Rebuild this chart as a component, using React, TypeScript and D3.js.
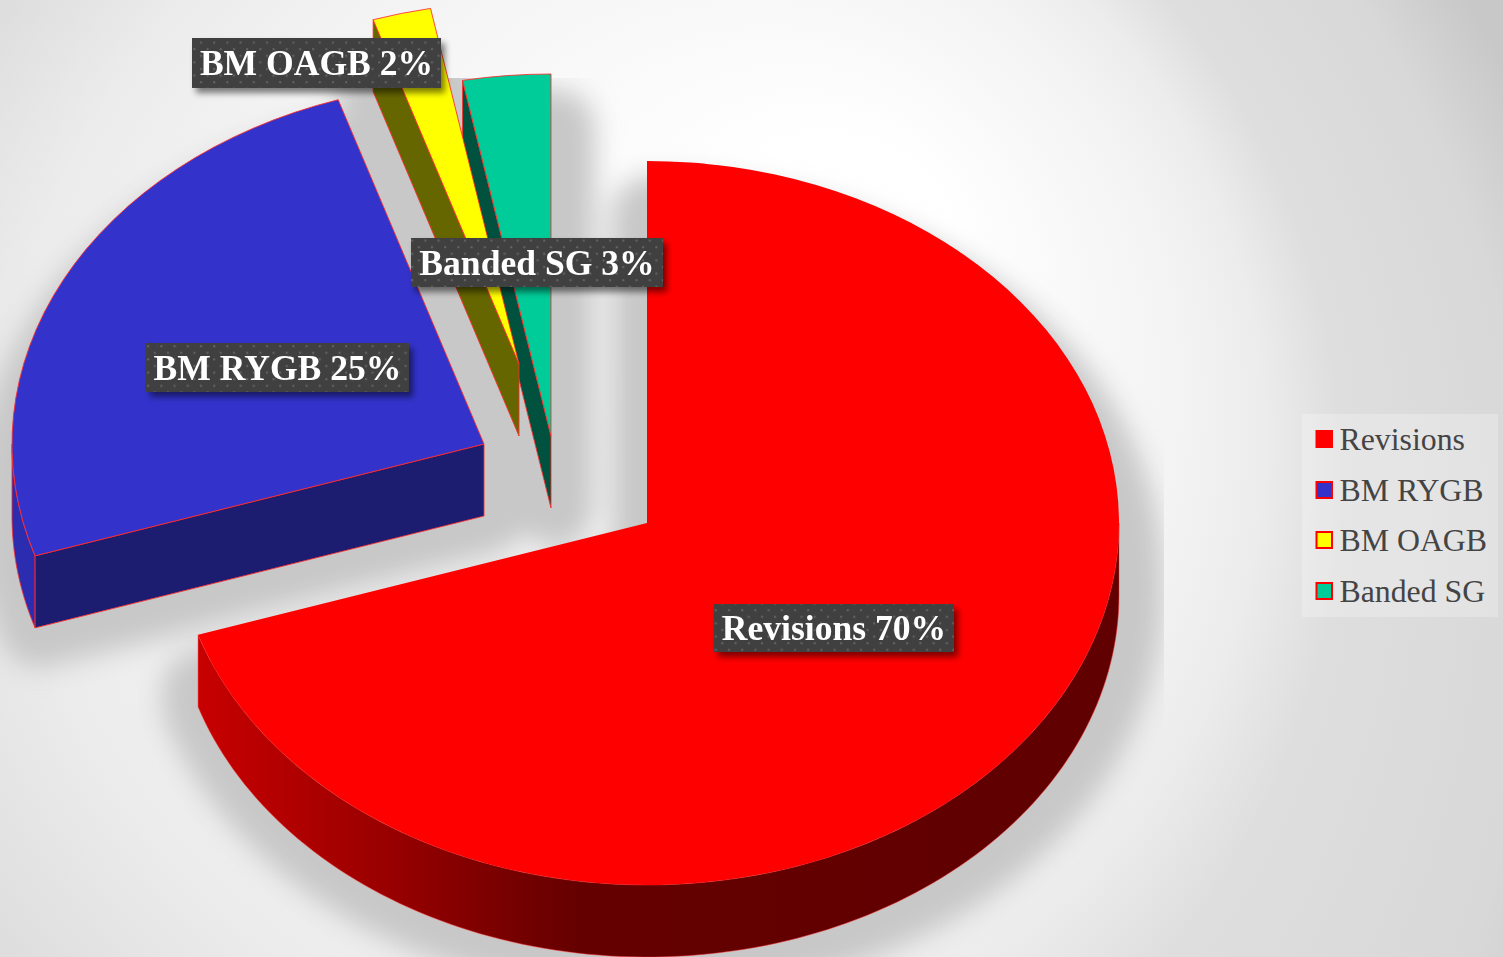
import React from "react";
import * as d3 from "d3";

const categories = ["Revisions", "BM RYGB", "BM OAGB", "Banded SG"];
const values = [70, 25, 2, 3];
const topColors = ["#ff0000", "#3333cc", "#ffff00", "#00cc99"];
const cutColors = ["#600000", "#1c1c70", "#666600", "#00513d"];
const labelTexts = ["Revisions 70%", "BM RYGB 25%", "BM OAGB 2%", "Banded SG 3%"];

const W = 1503;
const H = 957;
const RX = 472;
const RY = 362;
const DEPTH = 72;
const centers: [number, number][] = [[647, 523], [484, 444], [519, 364], [551, 436]];
const labelBoxes: [number, number, number, number][] = [
  [714, 604, 240, 48],
  [146, 343, 263, 49],
  [192, 38, 249, 50],
  [411, 238, 252, 49],
];
const legendBox = { x: 1302, y: 414, w: 196, h: 203 };
const legendRows = [439, 490, 540, 591];

const pieData = d3.pie<number>().sort(null)(values);
const arcGen = d3.arc<any>().innerRadius(0).outerRadius(RX);
const line = d3.line();

const pt = (c: [number, number], a: number, dy = 0): [number, number] => [
  c[0] + RX * Math.sin(a),
  c[1] - RY * Math.cos(a) + dy,
];

const wall = (c: [number, number], a0: number, a1: number) => {
  const angles = d3.range(0, 121).map((i) => a0 + ((a1 - a0) * i) / 120);
  const top = angles.map((a) => pt(c, a));
  const bot = angles.map((a) => pt(c, a, DEPTH)).reverse();
  return line([...top, ...bot]) + "Z";
};

const cut = (c: [number, number], a: number) =>
  line([c, pt(c, a), pt(c, a, DEPTH), [c[0], c[1] + DEPTH]]) + "Z";

const sector = (i: number, dy = 0, dx = 0) => (
  <path
    key={`${i}-${dy}`}
    d={arcGen(pieData[i]) as string}
    vectorEffect="non-scaling-stroke"
    transform={`translate(${centers[i][0] + dx},${centers[i][1] + dy}) scale(1,${RY / RX})`}
  />
);

const EDGE = { stroke: "#ff2a2a", strokeWidth: 1, strokeOpacity: 0.85 };
const shadowOffsets = [55, 64, 72];

export default function App() {
  const a = pieData;
  return (
    <svg
      width={W}
      height={H}
      viewBox={`0 0 ${W} ${H}`}
      style={{ position: "absolute", left: 0, top: 0, display: "block" }}
      fontFamily="'Liberation Serif', serif"
    >
      <defs>
        <radialGradient id="bg" gradientUnits="userSpaceOnUse" cx={400} cy={650} r={1250} fx={880} fy={220}>
          <stop offset="0.1" stopColor="#ffffff" />
          <stop offset="0.4" stopColor="#f3f3f3" />
          <stop offset="0.5" stopColor="#ececec" />
          <stop offset="0.6" stopColor="#dedede" />
          <stop offset="0.85" stopColor="#d8d8d8" />
          <stop offset="1" stopColor="#c8c8c8" />
        </radialGradient>
        <linearGradient id="redWall" gradientUnits="userSpaceOnUse" x1={198} x2={1119} y1={0} y2={0}>
          <stop offset="0" stopColor="#c80000" />
          <stop offset="0.2" stopColor="#9a0000" />
          <stop offset="0.345" stopColor="#750000" />
          <stop offset="0.42" stopColor="#640000" />
          <stop offset="1" stopColor="#600000" />
        </linearGradient>
        <filter id="pieShadow" filterUnits="userSpaceOnUse" x={-100} y={-100} width={1500} height={1300}>
          <feGaussianBlur stdDeviation="13" />
        </filter>
        <filter id="boxShadow" x="-10%" y="-30%" width="125%" height="170%">
          <feGaussianBlur stdDeviation="3" />
        </filter>
        <clipPath id="shadowClip">
          <rect x={0} y={78} width={1164} height={H - 78} />
        </clipPath>
        <pattern id="dots" patternUnits="userSpaceOnUse" width={13.2} height={13.2}>
          <rect width={13.2} height={13.2} fill="#404040" />
          <rect x={2} y={2} width={2} height={2} fill="#646464" />
          <rect x={8.6} y={8.6} width={2} height={2} fill="#646464" />
        </pattern>
      </defs>

      <rect width={W} height={H} fill="url(#bg)" />

      <g clipPath="url(#shadowClip)">
        <g filter="url(#pieShadow)" fill="#c8c8c8" stroke="#c8c8c8" strokeWidth={80} strokeLinejoin="round">
          {values.map((_, i) => shadowOffsets.map((dy) => sector(i, dy, 4)))}
        </g>
      </g>

      {/* BM RYGB */}
      <path d={wall(centers[1], a[1].startAngle, 1.5 * Math.PI)} fill="#2c2cb0" {...EDGE} />
      <path d={cut(centers[1], a[1].startAngle)} fill={cutColors[1]} {...EDGE} />
      <g fill={topColors[1]} {...EDGE}>{sector(1)}</g>

      {/* Banded SG */}
      <path d={cut(centers[3], a[3].startAngle)} fill={cutColors[3]} {...EDGE} />
      <g fill={topColors[3]} {...EDGE}>{sector(3)}</g>

      {/* BM OAGB */}
      <path d={cut(centers[2], a[2].startAngle)} fill={cutColors[2]} {...EDGE} />
      <g fill={topColors[2]} {...EDGE}>{sector(2)}</g>

      {/* Revisions */}
      <path d={wall(centers[0], 0.5 * Math.PI, a[0].endAngle)} fill="url(#redWall)" stroke="#ff2a2a" strokeWidth={0.8} strokeOpacity={0.6} />
      <g fill={topColors[0]}>{sector(0)}</g>

      {/* data labels */}
      {labelTexts.map((t, i) => {
        const [x, y, w, h] = labelBoxes[i];
        return (
          <g key={t}>
            <rect x={x + 4} y={y + 5} width={w} height={h} fill="#000" opacity={0.5} filter="url(#boxShadow)" />
            <rect x={x} y={y} width={w} height={h} fill="url(#dots)" />
            <text
              x={x + w / 2}
              y={y + h / 2 + 12}
              textAnchor="middle"
              fontWeight="bold"
              fontSize={35.6}
              fill="#ffffff"
            >
              {t}
            </text>
          </g>
        );
      })}

      {/* legend */}
      <rect x={legendBox.x} y={legendBox.y} width={legendBox.w} height={legendBox.h} fill="#ffffff" opacity={0.25} />
      {categories.map((c, i) => (
        <g key={c}>
          <rect
            x={1316.5}
            y={legendRows[i] - 8}
            width={15.5}
            height={16}
            fill={topColors[i]}
            stroke="#ff0000"
            strokeWidth={2}
          />
          <text x={1339.5} y={legendRows[i] + 11} fontSize={31.8} fill="#444444">
            {c}
          </text>
        </g>
      ))}
    </svg>
  );
}
